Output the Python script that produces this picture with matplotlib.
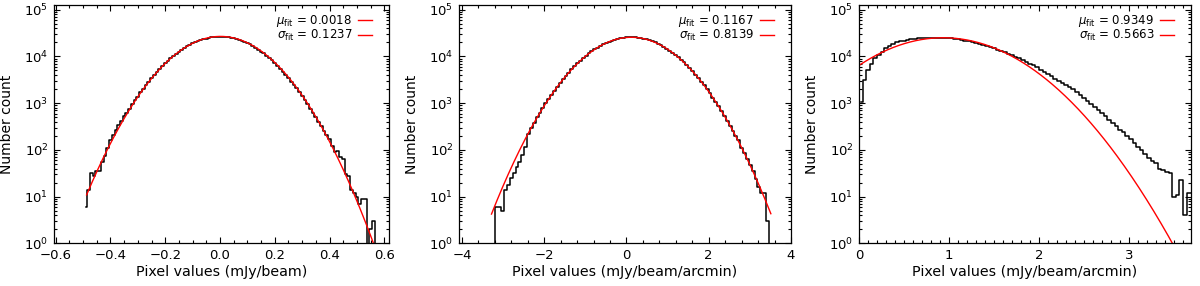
import numpy as np
import matplotlib
matplotlib.use('Agg')
import matplotlib.pyplot as plt
from matplotlib.ticker import MultipleLocator, LogLocator, NullFormatter

# histogram 1: bin centres start at -0.49, step 0.01
p1_start, p1_step = -0.49, 0.01
p1_counts = [6, 14, 32, 28, 35, 36, 55, 75, 110, 160,
             210, 270, 340, 420, 540, 620, 760, 950, 1150, 1380,
             1700, 2040, 2450, 2880, 3390, 3980, 4680, 5370, 6170, 7080,
             8130, 9120, 10200, 11500, 12600, 13800, 15100, 16600, 17800, 19100,
             20400, 21400, 22400, 23400, 24000, 25000, 25600, 25900, 26200, 26300,
             26300, 26000, 25700, 25200, 24300, 23500, 22500, 21500, 20400, 19200,
             18000, 16700, 15300, 14000, 12700, 11600, 10300, 9200, 8200, 7100,
             6200, 5400, 4700, 4000, 3400, 2900, 2500, 2100, 1700, 1400,
             1150, 950, 760, 620, 500, 400, 330, 260, 210, 175,
             120, 92, 95, 70, 65, 30, 28, 14, 12, 10,
             7, 9, 9, 0, 2, 3, 0]

# histogram 2: bin centres start at -3.22, step 0.07
p2_start, p2_step = -3.22, 0.07
p2_counts = [0, 6, 6, 5, 14, 18, 25, 32, 43, 56,
             76, 117, 218, 300, 385, 500, 625, 800, 985, 1230,
             1500, 1860, 2240, 2710, 3230, 3850, 4520, 5310, 6130, 7090,
             8090, 9210, 10400, 11600, 12900, 14200, 15500, 16900, 18200, 19500,
             20700, 21800, 22800, 23700, 24400, 25000, 25400, 25700, 25700, 25500,
             25200, 24700, 24000, 23100, 22200, 21100, 19900, 18600, 17300, 16000,
             14700, 13300, 12000, 10800, 9590, 8470, 7420, 6450, 5570, 4780,
             4070, 3430, 2880, 2400, 1980, 1620, 1320, 1070, 860, 680,
             540, 425, 330, 255, 200, 160, 112, 86, 64, 47,
             35, 24, 16, 12, 12, 3, 0]

# histogram 3: bin centres start at 0.02, step 0.04
p3_start, p3_step = 0.02, 0.04
p3_counts = [1080, 3150, 5000, 6900, 9200, 10800, 12700, 15000, 16600, 18600,
             20300, 21200, 21900, 22700, 23300, 23800, 24300, 24700, 25000, 25200,
             25300, 25300, 25200, 25000, 24700, 24300, 23800, 23200, 22500, 21800,
             21000, 20100, 19300, 18400, 17500, 16600, 15700, 14800, 13900, 13000,
             12200, 11400, 10600, 9900, 9100, 8400, 7700, 7000, 6400, 5800,
             5200, 4700, 4200, 3800, 3300, 3000, 2700, 2400, 2200, 2000,
             1700, 1500, 1320, 1100, 950, 830, 720, 610, 520, 440,
             380, 320, 270, 240, 200, 170, 140, 115, 100, 80,
             66, 58, 52, 40, 37, 33, 32, 10, 11, 23,
             4, 12, 12]

# gaussian fits
fit_mu = [0.0018, 0.1167, 0.9349]
fit_sigma = [0.1237, 0.8139, 0.5663]
fit_amp = [26800, 25700, 25100]
fit_range = [(-0.487, 0.60), (-3.28, 3.51), (0.0, 3.6)]

x_labels = ['Pixel values (mJy/beam)',
            'Pixel values (mJy/beam/arcmin)',
            'Pixel values (mJy/beam/arcmin)']
x_limits = [(-0.606, 0.617), (-4.07, 4.0), (0.0, 3.69)]
x_major = [0.2, 2, 1]
x_minor = [0.05, 0.4, 0.1]

hists = [(p1_start, p1_step, p1_counts),
         (p2_start, p2_step, p2_counts),
         (p3_start, p3_step, p3_counts)]

plt.rcParams['font.family'] = 'DejaVu Sans'
plt.rcParams['mathtext.fontset'] = 'dejavusans'

fig = plt.figure(figsize=(12, 2.86), dpi=100)
W, H = 1200, 286
edges_px = [(54, 389), (459, 791), (859, 1191)]
bottom = (H - 243.4) / H
height = (243.4 - 5) / H

for i in range(3):
    l, r = edges_px[i]
    ax = fig.add_axes([l / W, bottom, (r - l) / W, height])
    start, step, counts = hists[i]
    counts = np.array(counts, dtype=float)
    x = start + step * np.arange(len(counts))
    ax.step(x, np.clip(counts, 0.1, None), where='mid', color='black', lw=1.1)

    xf = np.linspace(fit_range[i][0], fit_range[i][1], 400)
    yf = fit_amp[i] * np.exp(-(xf - fit_mu[i]) ** 2 / (2 * fit_sigma[i] ** 2))
    line, = ax.plot(xf, yf, color='red', lw=1.0)

    ax.set_yscale('log')
    ax.set_ylim(1, 10 ** 5.1)
    ax.set_xlim(*x_limits[i])
    ax.xaxis.set_major_locator(MultipleLocator(x_major[i]))
    ax.xaxis.set_minor_locator(MultipleLocator(x_minor[i]))
    ax.yaxis.set_major_locator(LogLocator(base=10, numticks=10))
    ax.yaxis.set_minor_locator(LogLocator(base=10, subs=np.arange(2, 10), numticks=20))
    ax.yaxis.set_minor_formatter(NullFormatter())
    ax.tick_params(which='both', direction='in', top=True, right=True,
                   labelsize=9.5, width=0.8, pad=4)
    ax.tick_params(which='major', length=4.5)
    ax.tick_params(which='minor', length=2.2)
    for s in ax.spines.values():
        s.set_linewidth(0.9)

    ax.set_xlabel(x_labels[i], fontsize=10.3, labelpad=2)
    ax.set_ylabel('Number count', fontsize=10, labelpad=7)

    mu_txt = r'$\mu_{\rm fit}$ = %.4f' % fit_mu[i]
    sig_txt = r'$\sigma_{\rm fit}$ = %.4f' % fit_sigma[i]
    # legend box anchored ~12 px from the right frame and ~3 px from the top
    ax_w = r - l
    ax.legend([line, line], [mu_txt, sig_txt], loc='upper right',
              bbox_to_anchor=(1 - 12 / ax_w, 1 - 3 / 238.4),
              frameon=False, markerfirst=False, fontsize=8.5,
              handlelength=1.2, handletextpad=0.5, labelspacing=-0.08,
              borderaxespad=0.0)

fig.savefig('out.png', dpi=100)
